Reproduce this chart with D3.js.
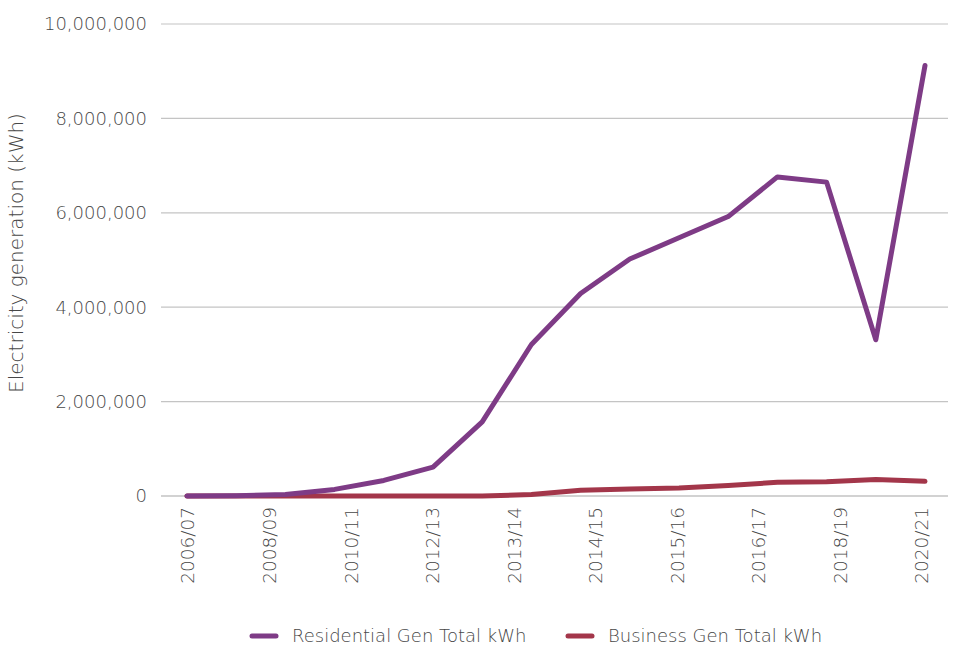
<!DOCTYPE html>
<html>
<head>
<meta charset="utf-8">
<script src="https://cdn.jsdelivr.net/npm/d3@7"></script>
<style>
  body { margin: 0; background: #ffffff; }
  text { font-family: "DejaVu Sans", "Open Sans", sans-serif; font-weight: 200; fill: #474747; }
</style>
</head>
<body>
<div id="viz-container"></div>
<script>
let w = 955;
let h = 650;

// 16 periods plotted, axis shows 10 labels spread across them
let periods = d3.range(16);
let tickLabels = ["2006/07", "2008/09", "2010/11", "2012/13", "2013/14",
                  "2014/15", "2015/16", "2016/17", "2018/19", "2020/21"];
let residential = [0, 5000, 30000, 140000, 330000, 610000, 1570000, 3210000,
                   4290000, 5020000, 5470000, 5920000, 6760000, 6650000, 3310000, 9120000];
let business = [0, 0, 0, 0, 0, 0, 0, 30000,
                120000, 150000, 170000, 220000, 290000, 300000, 350000, 310000];
let yTicks = [0, 2000000, 4000000, 6000000, 8000000, 10000000];

let seriesNames = ["Residential Gen Total kWh", "Business Gen Total kWh"];
let colors = ["#7e3b86", "#a3364a"];

let plotLeft = 161, plotRight = 948, plotTop = 24, plotBottom = 496;

let viz = d3.select("#viz-container")
  .append("svg")
  .attr("width", w)
  .attr("height", h)
  .style("background-color", "#ffffff");

let x = d3.scalePoint().domain(periods).range([187, 925]);
let xLab = d3.scalePoint().domain(tickLabels).range([188, 922]);
let y = d3.scaleLinear().domain([0, 10000000]).range([plotBottom, plotTop]);

// gridlines
viz.selectAll(".grid").data(yTicks).enter().append("line")
  .attr("class", "grid")
  .attr("x1", plotLeft)
  .attr("x2", plotRight)
  .attr("y1", d => y(d))
  .attr("y2", d => y(d))
  .attr("stroke", d => d == 0 ? "#a6a6a6" : "#c4c4c4")
  .attr("stroke-width", 1.2);

// y axis labels
let fmt = d3.format(",");
viz.selectAll(".ylab").data(yTicks).enter().append("text")
  .attr("class", "ylab")
  .text(d => fmt(d))
  .attr("x", 147)
  .attr("y", d => y(d))
  .attr("dy", "0.35em")
  .attr("text-anchor", "end")
  .attr("font-size", 18);

viz.append("text")
  .text("Electricity generation (kWh)")
  .attr("transform", "translate(23," + 253 + ") rotate(-90)")
  .attr("text-anchor", "middle")
  .attr("font-size", 20);

// x axis labels
viz.selectAll(".xlab").data(tickLabels).enter().append("text")
  .attr("class", "xlab")
  .text(d => d)
  .attr("transform", d => "translate(" + xLab(d) + ",507) rotate(-90)")
  .attr("text-anchor", "end")
  .attr("dy", "0.35em")
  .attr("font-size", 18.5);

// lines
let line = d3.line().x((d, i) => x(i)).y(d => y(d));
[business, residential].forEach((s, k) => {
  viz.append("path")
    .datum(s)
    .attr("d", line)
    .attr("fill", "none")
    .attr("stroke", k == 0 ? colors[1] : colors[0])
    .attr("stroke-width", 5)
    .attr("stroke-linejoin", "round")
    .attr("stroke-linecap", "round");
});

// legend
let legendX = [250, 566];
seriesNames.forEach((name, i) => {
  viz.append("line")
    .attr("x1", legendX[i] + 2)
    .attr("x2", legendX[i] + 26)
    .attr("y1", 636)
    .attr("y2", 636)
    .attr("stroke", colors[i])
    .attr("stroke-width", 5)
    .attr("stroke-linecap", "round");
  viz.append("text")
    .text(name)
    .attr("x", legendX[i] + 42)
    .attr("y", 636)
    .attr("dy", "0.35em")
    .attr("font-size", 18);
});
</script>
</body>
</html>
